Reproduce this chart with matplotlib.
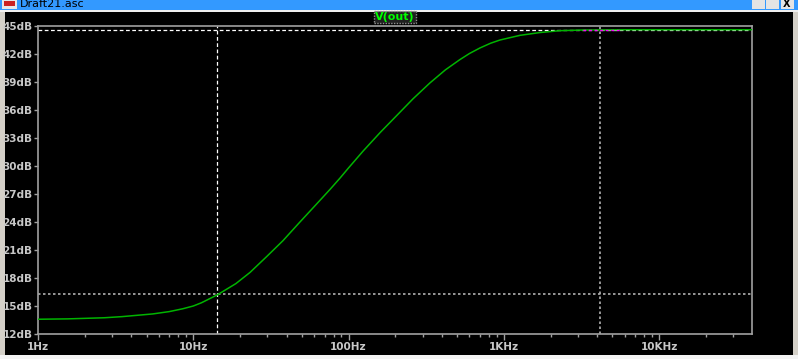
import numpy as np
import matplotlib
matplotlib.use('Agg')
import matplotlib.pyplot as plt
from matplotlib.patches import Rectangle
from matplotlib.ticker import FixedLocator, NullFormatter

freq_hz = [1, 1.55, 2.67, 3.47, 5.48, 7.0, 8.54, 10, 11.3, 14.3, 18.8, 23.2,
           29.7, 37.8, 48, 62, 76, 88, 100, 124, 160, 204, 260, 334, 420, 521,
           600, 702, 820, 944, 1270, 1708, 2297, 3230, 5600, 40000]
gain_db = [13.58, 13.62, 13.74, 13.86, 14.15, 14.4, 14.7, 15.0, 15.35, 16.2,
           17.4, 18.6, 20.3, 22.0, 23.9, 25.9, 27.5, 28.7, 29.8, 31.6, 33.6,
           35.4, 37.2, 38.9, 40.3, 41.4, 42.05, 42.65, 43.15, 43.5, 44.0, 44.3,
           44.5, 44.57, 44.6, 44.6]

x_ticks = [1, 10, 100, 1000, 10000]
x_labels = ['1Hz', '10Hz', '100Hz', '1KHz', '10KHz']
y_ticks = list(range(12, 46, 3))
y_labels = ['%ddB' % v for v in y_ticks]

# cursors
cur1_f, cur1_db = 14.3, 44.55
cur2_f, cur2_db = 4160, 16.3
hl_f = [3230, 5600]

W, H = 798, 359
fig = plt.figure(figsize=(W / 100, H / 100), dpi=100)
fig.patch.set_facecolor('#d4d0c8')

def px(x0, y0, w, h):
    return (x0 / W, 1 - (y0 + h) / H, w / W, h / H)

def rect(x0, y0, w, h, color, **kw):
    l, b, ww, hh = px(x0, y0, w, h)
    fig.patches.append(Rectangle((l, b), ww, hh, transform=fig.transFigure,
                                 facecolor=color, edgecolor='none', zorder=-1, **kw))

# window chrome
rect(0, 0, W, 10, '#3399ff')
rect(0, 10, W, 2, '#f0f0f0')
rect(5, 12, 788, 343, '#000000')
rect(0, 355, W, 4, '#f4f4f4')
rect(2, 0, 15, 9, '#e8e8e8')
rect(4, 1, 11, 5, '#cc2222')
for bx in (752, 766, 781):
    rect(bx, 0, 13, 9, '#e4e4e4')
fig.text(20 / W, 1 - 4 / H, 'Draft21.asc', fontsize=8, color='black',
         va='center', ha='left')
fig.text(787 / W, 1 - 4 / H, 'X', fontsize=7, color='black', va='center',
         ha='center', weight='bold')

ax = fig.add_axes(px(38, 26, 714, 308))
ax.set_facecolor('black')
ax.set_xscale('log')
ax.set_xlim(1, 39600)
ax.set_ylim(12, 45)

ax.plot(freq_hz, gain_db, color='#00b400', lw=1.1, zorder=3)
ax.plot(hl_f, [44.6, 44.6], color='#ff00ff', lw=1.0, ls=(0, (2, 2)), zorder=4)

ax.axvline(cur1_f, color='white', lw=0.9, ls=(0, (3, 2)), zorder=2)
ax.axhline(cur1_db, color='white', lw=0.9, ls=(0, (3, 2)), zorder=2)
ax.axvline(cur2_f, color='#b0b0b0', lw=1.2, ls=(0, (1.5, 1.5)), zorder=2)
ax.axhline(cur2_db, color='#b0b0b0', lw=1.2, ls=(0, (1.5, 1.5)), zorder=2)

for s in ax.spines.values():
    s.set_color('#a0a0a0')
    s.set_linewidth(1.2)

ax.xaxis.set_major_locator(FixedLocator(x_ticks))
ax.set_xticklabels(x_labels)
minors = [m * d for d in x_ticks for m in range(2, 10)]
ax.xaxis.set_minor_locator(FixedLocator([v for v in minors if v < 39600]))
ax.xaxis.set_minor_formatter(NullFormatter())
ax.set_yticks(y_ticks)
ax.set_yticklabels(y_labels)

ax.tick_params(axis='both', which='major', colors='#a0a0a0', labelcolor='#c8c8c8',
               labelsize=7.5, width=1, pad=2)
ax.tick_params(axis='x', which='major', length=4)
ax.tick_params(axis='y', which='major', length=3, pad=1)
ax.tick_params(axis='x', which='minor', length=2, colors='#a0a0a0', width=1)
for lab in ax.get_xticklabels() + ax.get_yticklabels():
    lab.set_fontweight('bold')

fig.text(395 / W, 1 - 17 / H, 'V(out)', fontsize=8, color='#00ff00',
         weight='bold', ha='center', va='center',
         bbox=dict(boxstyle='square,pad=0.1', facecolor='#202020',
                   edgecolor='#909090', linestyle=(0, (1, 1)), lw=1))

fig.savefig('out.png', dpi=100, facecolor=fig.get_facecolor())
